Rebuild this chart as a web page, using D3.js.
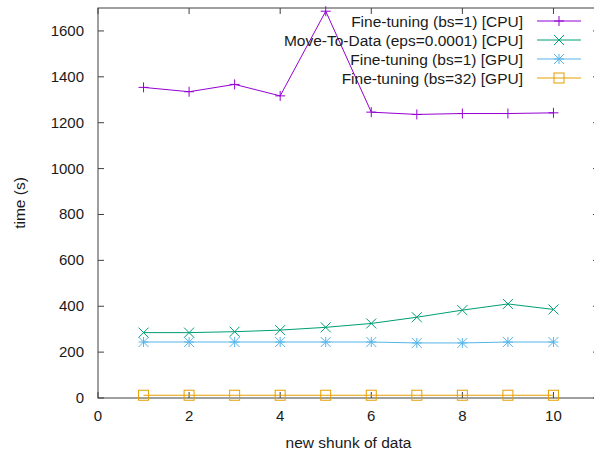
<!DOCTYPE html>
<html>
<head>
<meta charset="utf-8">
<script src="https://cdn.jsdelivr.net/npm/d3@7"></script>
<style>
  body { margin: 0; background: #fff; }
  svg { display: block; font-family: "Liberation Sans", Arial, sans-serif; }
</style>
</head>
<body>
<svg id="chart" width="594" height="452"></svg>
<script>
// Chart data
const chunks = [1, 2, 3, 4, 5, 6, 7, 8, 9, 10];
const ftCpu = [1354, 1335, 1367, 1317, 1686, 1246, 1236, 1240, 1240, 1243];
const mtdCpu = [285, 285, 289, 296, 308, 325, 352, 383, 410, 386];
const ftGpu = [244, 244, 244, 244, 244, 244, 240, 240, 244, 244];
const ftGpu32 = [12, 12, 12, 12, 12, 12, 12, 12, 12, 12];
const seriesNames = [
  "Fine-tuning (bs=1) [CPU]",
  "Move-To-Data (eps=0.0001) [CPU]",
  "Fine-tuning (bs=1) [GPU]",
  "Fine-tuning (bs=32) [GPU]",
];
const xTicks = [0, 2, 4, 6, 8, 10];
const yTicks = [0, 200, 400, 600, 800, 1000, 1200, 1400, 1600];

// Styles for each series
const colours = ["#9400d3", "#009e73", "#56b4e9", "#e69f00"];
const markers = ["plus", "cross", "star", "square"];
const allValues = [ftCpu, mtdCpu, ftGpu, ftGpu32];

// Layout
const plotL = 98, plotR = 599, plotT = 8, plotB = 398;
const svg = d3.select("#chart");
const x = d3.scaleLinear().domain([0, 11]).range([plotL, plotR]);
const y = d3.scaleLinear().domain([0, 1700]).range([plotB, plotT]);
const axisColour = "#404040";
const textColour = "#1a1a1a";
const tickLen = 6;

// Border box
svg.append("rect")
  .attr("x", plotL).attr("y", plotT)
  .attr("width", plotR - plotL).attr("height", plotB - plotT)
  .attr("fill", "none").attr("stroke", axisColour).attr("stroke-width", 1);

// Ticks (drawn inward on all sides) and labels
const ticks = svg.append("g").attr("stroke", axisColour).attr("stroke-width", 1);
xTicks.forEach(t => {
  ticks.append("line").attr("x1", x(t)).attr("x2", x(t)).attr("y1", plotB).attr("y2", plotB - tickLen);
  ticks.append("line").attr("x1", x(t)).attr("x2", x(t)).attr("y1", plotT).attr("y2", plotT + tickLen);
});
yTicks.forEach(t => {
  ticks.append("line").attr("x1", plotL).attr("x2", plotL + tickLen).attr("y1", y(t)).attr("y2", y(t));
  ticks.append("line").attr("x1", plotR).attr("x2", plotR - tickLen).attr("y1", y(t)).attr("y2", y(t));
});
svg.append("g").selectAll("text").data(xTicks).join("text")
  .attr("x", d => x(d)).attr("y", 421)
  .attr("text-anchor", "middle").attr("font-size", 15).attr("fill", textColour)
  .text(d => d);
svg.append("g").selectAll("text").data(yTicks).join("text")
  .attr("x", 84).attr("y", d => y(d) + 5)
  .attr("text-anchor", "end").attr("font-size", 15).attr("fill", textColour)
  .text(d => d);

// Axis titles
svg.append("text")
  .attr("x", (plotL + plotR) / 2).attr("y", 448)
  .attr("text-anchor", "middle").attr("font-size", 15.5).attr("fill", textColour)
  .text("new shunk of data");
svg.append("text")
  .attr("transform", "translate(25," + ((plotT + plotB) / 2) + ") rotate(-90)")
  .attr("text-anchor", "middle").attr("font-size", 15.5).attr("fill", textColour)
  .text("time (s)");

// Marker drawing helper
function drawMarker(g, kind, cx, cy, colour) {
  const s = 5;
  const m = g.append("g").attr("stroke", colour).attr("stroke-width", 1).attr("fill", "none");
  if (kind === "plus" || kind === "star") {
    m.append("line").attr("x1", cx - s).attr("x2", cx + s).attr("y1", cy).attr("y2", cy);
    m.append("line").attr("x1", cx).attr("x2", cx).attr("y1", cy - s).attr("y2", cy + s);
  }
  if (kind === "cross" || kind === "star") {
    m.append("line").attr("x1", cx - s).attr("x2", cx + s).attr("y1", cy - s).attr("y2", cy + s);
    m.append("line").attr("x1", cx - s).attr("x2", cx + s).attr("y1", cy + s).attr("y2", cy - s);
  }
  if (kind === "square") {
    m.append("rect").attr("x", cx - s).attr("y", cy - s).attr("width", 2 * s).attr("height", 2 * s);
  }
}

// Lines and points
const line = d3.line().x((d, i) => x(chunks[i])).y(d => y(d));
const plot = svg.append("g");
allValues.forEach((vals, k) => {
  plot.append("path").datum(vals)
    .attr("d", line)
    .attr("fill", "none").attr("stroke", colours[k]).attr("stroke-width", 1);
  vals.forEach((v, i) => drawMarker(plot, markers[k], x(chunks[i]), y(v), colours[k]));
});

// Legend (top right)
const legend = svg.append("g");
seriesNames.forEach((name, k) => {
  const ly = 21 + k * 19;
  legend.append("text")
    .attr("x", 523).attr("y", ly + 5.5)
    .attr("text-anchor", "end").attr("font-size", 15.5).attr("fill", textColour)
    .text(name);
  legend.append("line")
    .attr("x1", 537).attr("x2", 581).attr("y1", ly).attr("y2", ly)
    .attr("stroke", colours[k]).attr("stroke-width", 1);
  drawMarker(legend, markers[k], 559, ly, colours[k]);
});
</script>
</body>
</html>
